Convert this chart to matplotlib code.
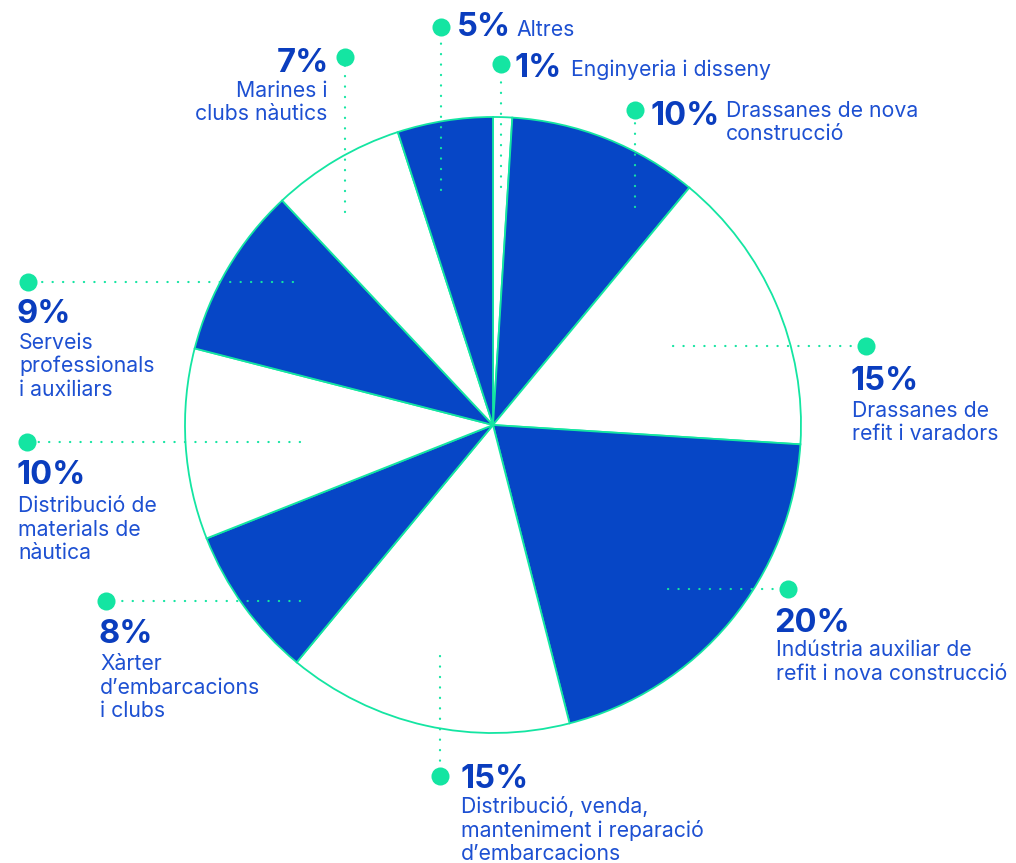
import matplotlib
matplotlib.use("Agg")
import matplotlib.pyplot as plt

# ---- data (clockwise from 12 o'clock) ----
categories = [
    "Enginyeria i disseny",
    "Drassanes de nova\nconstrucció",
    "Drassanes de\nrefit i varadors",
    "Indústria auxiliar de\nrefit i nova construcció",
    "Distribució, venda,\nmanteniment i reparació\nd’embarcacions",
    "Xàrter\nd’embarcacions\ni clubs",
    "Distribució de\nmaterials de\nnàutica",
    "Serveis\nprofessionals\ni auxiliars",
    "Marines i\nclubs nàutics",
    "Altres",
]
values = [1, 10, 15, 20, 15, 8, 10, 9, 7, 5]
pct_labels = [f"{v}%" for v in values]

BLUE = "#0646C6"
GREEN = "#14E5A2"
TXT_BOLD = "#0A3DBE"
TXT = "#1D50D2"
FONT = "Inter"

slice_colors = ["white", BLUE] * 5

W, H = 1016, 863
fig = plt.figure(figsize=(W / 100, H / 100), dpi=100)
ax = fig.add_axes([0, 0, 1, 1])

def Y(y):
    return H - y

ax.pie(values, colors=slice_colors, startangle=90, counterclock=False,
       center=(493, Y(425)), radius=308,
       wedgeprops=dict(edgecolor=GREEN, linewidth=1.3))
ax.set_xlim(0, W)
ax.set_ylim(0, H)
ax.set_aspect("equal")
ax.axis("off")

dot_style = dict(color=GREEN, lw=1.6, linestyle=(0, (0.1, 4.6)),
                 dash_capstyle="round", zorder=5)

def leader(x0, y0, x1, y1):
    ax.plot([x0, x1], [Y(y0), Y(y1)], **dot_style)
    ax.plot([x1], [Y(y1)], "o", color=GREEN, ms=13, mec="none", zorder=6)

PSIZE = 23.5
LSIZE = 15.3
LINE_PX = 23.5

def pct(x, y, s, ha="left"):
    ax.text(x, Y(y), s, fontsize=PSIZE, fontweight="bold", color=TXT_BOLD,
            ha=ha, va="baseline", family=FONT)

def lab(x, y, s, ha="left"):
    for i, line in enumerate(s.split("\n")):
        ax.text(x, Y(y + i * LINE_PX), line, fontsize=LSIZE, color=TXT,
                ha=ha, va="baseline", family=FONT)

# 1% Enginyeria i disseny
leader(501, 187, 501, 64)
pct(515, 77, pct_labels[0])
lab(571, 76, categories[0])

# 10% Drassanes de nova construcció
leader(635, 207, 635, 110)
pct(650, 125, pct_labels[1])
lab(726, 117, categories[1])

# 15% Drassanes de refit
leader(673, 346, 866, 346)
pct(851, 390, pct_labels[2])
lab(852, 417, categories[2])

# 20% Indústria auxiliar
leader(668, 589, 788, 589)
pct(774, 632, pct_labels[3])
lab(776, 656, categories[3])

# 15% Distribució, venda
leader(440, 656, 440, 776)
pct(460, 788, pct_labels[4])
lab(461, 813, categories[4])

# 8% Xàrter
leader(300, 601, 106, 601)
pct(98, 643, pct_labels[5])
lab(100, 670, categories[5])

# 10% Distribució de materials
leader(300, 442, 27, 442)
pct(16, 484, pct_labels[6])
lab(18, 512, categories[6])

# 9% Serveis professionals
leader(293, 282, 28, 282)
pct(17, 323, pct_labels[7])
lab(19, 349, categories[7])

# 7% Marines i clubs nàutics
leader(345, 212, 345, 57)
pct(329, 72, pct_labels[8], ha="right")
lab(327, 97, categories[8], ha="right")

# 5% Altres
leader(441, 190, 441, 27)
pct(457, 36, pct_labels[9])
lab(516, 36, categories[9])

fig.savefig("out.png", dpi=100, facecolor="white")
